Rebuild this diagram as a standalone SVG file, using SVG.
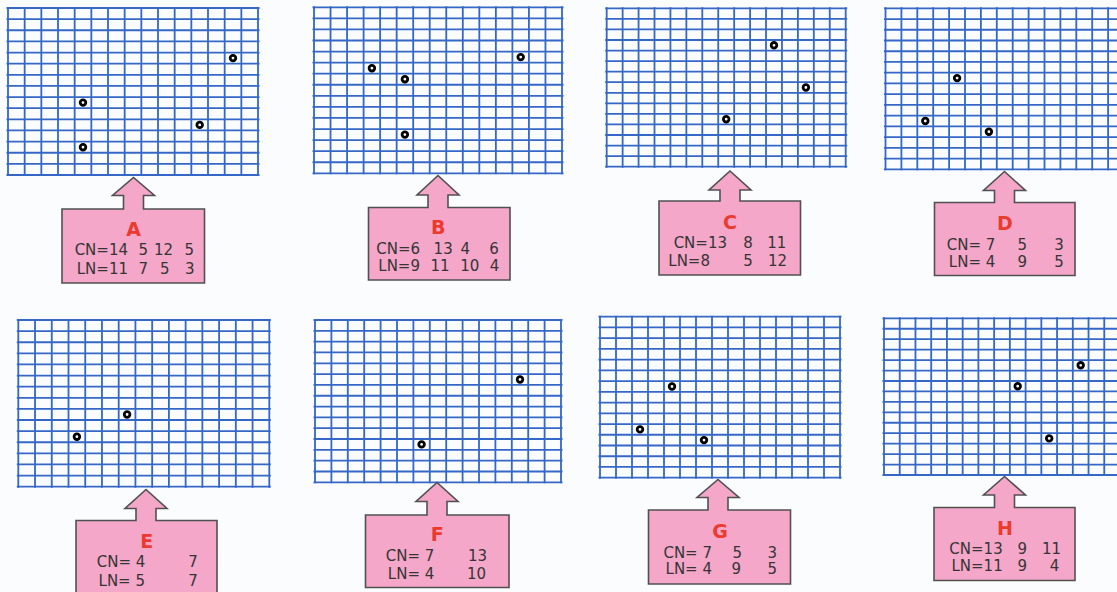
<svg xmlns="http://www.w3.org/2000/svg" width="1117" height="592" viewBox="0 0 1117 592">
<style>
.g{stroke:#3467c6;fill:none}
.box{fill:#f4a7c9;stroke:#505050;stroke-width:1.6;stroke-linejoin:miter}
.lbl{font-family:"DejaVu Sans",Verdana,sans-serif;font-weight:bold;font-size:19px;fill:#ec3a2e;text-anchor:middle}
.t{font-family:"DejaVu Sans",Verdana,sans-serif;font-size:15px;fill:#353535;text-anchor:end}
.dot{fill:#fff;stroke:#000;stroke-width:2.8}
</style>
<rect width="1117" height="592" fill="#fbfcfd"/>

<g id="panelA">
<line class="g" x1="7.1" y1="91.5" x2="258.9" y2="91.5" stroke-width="169" stroke-dasharray="1.8 14.867"/>
<line class="g" x1="133" y1="7.1" x2="133" y2="175.9" stroke-width="253" stroke-dasharray="1.8 9.333"/>
<circle class="dot" cx="233" cy="58.1" r="2.8"/>
<circle class="dot" cx="83" cy="102.6" r="2.8"/>
<circle class="dot" cx="199.7" cy="124.9" r="2.8"/>
<circle class="dot" cx="83" cy="147.2" r="2.8"/>
<path class="box" d="M62,283 V209 H123.5 V195.5 H112.5 L133.5,177.5 L154.5,195.5 H143.5 V209 H204.5 V283 Z"/>
<text class="lbl" x="133.5" y="235.5">A</text>
<text class="t" y="255"><tspan x="128">CN=14</tspan><tspan x="148">5</tspan><tspan x="173">12</tspan><tspan x="194">5</tspan></text>
<text class="t" y="273.5"><tspan x="128">LN=11</tspan><tspan x="148">7</tspan><tspan x="169.5">5</tspan><tspan x="194.5">3</tspan></text>
</g>

<g id="panelB">
<line class="g" x1="313.1" y1="90.3" x2="562.9" y2="90.3" stroke-width="168" stroke-dasharray="1.8 14.733"/>
<line class="g" x1="438" y1="6.4" x2="438" y2="174.2" stroke-width="251" stroke-dasharray="1.8 9.267"/>
<circle class="dot" cx="404.9" cy="79.2" r="2.8"/>
<circle class="dot" cx="520.7" cy="57.1" r="2.8"/>
<circle class="dot" cx="371.9" cy="68.2" r="2.8"/>
<circle class="dot" cx="404.9" cy="134.6" r="2.8"/>
<path class="box" d="M368.5,280 V207.5 H428 V195 H417 L438,175.5 L459,195 H448 V207.5 H510 V280 Z"/>
<text class="lbl" x="438.3" y="233.5">B</text>
<text class="t" y="253.5"><tspan x="420">CN=6</tspan><tspan x="452.7">13</tspan><tspan x="470">4</tspan><tspan x="498.7">6</tspan></text>
<text class="t" y="271"><tspan x="420">LN=9</tspan><tspan x="449.5">11</tspan><tspan x="479.3">10</tspan><tspan x="499.3">4</tspan></text>
</g>

<g id="panelC">
<line class="g" x1="605.8" y1="87.5" x2="846.6" y2="87.5" stroke-width="160.4" stroke-dasharray="1.8 14.133"/>
<line class="g" x1="726.2" y1="7.4" x2="726.2" y2="167.6" stroke-width="242" stroke-dasharray="1.8 8.76"/>
<circle class="dot" cx="805.9" cy="87.5" r="2.8"/>
<circle class="dot" cx="726.2" cy="119.2" r="2.8"/>
<circle class="dot" cx="774" cy="45.3" r="2.8"/>
<path class="box" d="M659,275 V201 H720 V190 H709 L730,171 L751,190 H740 V201 H800.5 V275 Z"/>
<text class="lbl" x="730" y="228.5">C</text>
<text class="t" y="248"><tspan x="727">CN=13</tspan><tspan x="752.7">8</tspan><tspan x="786.3">11</tspan></text>
<text class="t" y="265.5"><tspan x="710">LN=8</tspan><tspan x="752.7">5</tspan><tspan x="787">12</tspan></text>
</g>

<g id="panelD">
<line class="g" x1="884.6" y1="88.8" x2="1124.9" y2="88.8" stroke-width="163" stroke-dasharray="1.8 14.1"/>
<line class="g" x1="1004.75" y1="7.4" x2="1004.75" y2="170.2" stroke-width="241.5" stroke-dasharray="1.8 8.933"/>
<circle class="dot" cx="988.9" cy="131.7" r="2.8"/>
<circle class="dot" cx="957.1" cy="78.1" r="2.8"/>
<circle class="dot" cx="925.3" cy="121" r="2.8"/>
<path class="box" d="M934.5,275.5 V202.5 H994.5 V190.5 H983.5 L1004.5,171.5 L1025.5,190.5 H1014.5 V202.5 H1075 V275.5 Z"/>
<text class="lbl" x="1005" y="230">D</text>
<text class="t" y="250"><tspan x="995.3">CN= 7</tspan><tspan x="1027">5</tspan><tspan x="1063.7">3</tspan></text>
<text class="t" y="267"><tspan x="995.3">LN= 4</tspan><tspan x="1027">9</tspan><tspan x="1063.7">5</tspan></text>
</g>

<g id="panelE">
<line class="g" x1="17.4" y1="403.35" x2="270.2" y2="403.35" stroke-width="168.7" stroke-dasharray="1.8 14.933"/>
<line class="g" x1="143.8" y1="319.1" x2="143.8" y2="487.6" stroke-width="254" stroke-dasharray="1.8 9.313"/>
<circle class="dot" cx="76.9" cy="436.7" r="2.8"/>
<circle class="dot" cx="127.1" cy="414.5" r="2.8"/>
<path class="box" d="M76,600 V520.5 H136 V508.5 H125 L146,489.5 L167,508.5 H156 V520.5 H217 V600 Z"/>
<text class="lbl" x="146.7" y="547.5">E</text>
<text class="t" y="567"><tspan x="145.3">CN= 4</tspan><tspan x="197.7">7</tspan></text>
<text class="t" y="585.5"><tspan x="145">LN= 5</tspan><tspan x="197.7">7</tspan></text>
</g>

<g id="panelF">
<line class="g" x1="314.1" y1="401.15" x2="561.9" y2="401.15" stroke-width="164.3" stroke-dasharray="1.8 14.6"/>
<line class="g" x1="438" y1="319.1" x2="438" y2="483.2" stroke-width="249" stroke-dasharray="1.8 9.02"/>
<circle class="dot" cx="421.6" cy="444.4" r="2.8"/>
<circle class="dot" cx="520" cy="379.5" r="2.8"/>
<path class="box" d="M365.5,587.5 V515 H427 V501.5 H416 L437,482.5 L458,501.5 H447 V515 H509 V587.5 Z"/>
<text class="lbl" x="437.3" y="541">F</text>
<text class="t" y="561"><tspan x="434.3">CN= 7</tspan><tspan x="487">13</tspan></text>
<text class="t" y="578.5"><tspan x="434.3">LN= 4</tspan><tspan x="486">10</tspan></text>
</g>

<g id="panelG">
<line class="g" x1="599.1" y1="397.2" x2="840.9" y2="397.2" stroke-width="163" stroke-dasharray="1.8 14.2"/>
<line class="g" x1="720" y1="315.8" x2="720" y2="478.6" stroke-width="243" stroke-dasharray="1.8 8.933"/>
<circle class="dot" cx="704" cy="440.1" r="2.8"/>
<circle class="dot" cx="672" cy="386.5" r="2.8"/>
<circle class="dot" cx="640" cy="429.4" r="2.8"/>
<path class="box" d="M648.5,584 V510 H708 V497.5 H697 L718,479.5 L739,497.5 H728 V510 H790.5 V584 Z"/>
<text class="lbl" x="720" y="538">G</text>
<text class="t" y="557.5"><tspan x="712">CN= 7</tspan><tspan x="742">5</tspan><tspan x="777">3</tspan></text>
<text class="t" y="574"><tspan x="712">LN= 4</tspan><tspan x="741">9</tspan><tspan x="777">5</tspan></text>
</g>

<g id="panelH">
<line class="g" x1="883.1" y1="396.65" x2="1120.9" y2="396.65" stroke-width="158.7" stroke-dasharray="1.8 13.933"/>
<line class="g" x1="1002" y1="317.4" x2="1002" y2="475.9" stroke-width="239" stroke-dasharray="1.8 8.647"/>
<circle class="dot" cx="1080.7" cy="365.3" r="2.8"/>
<circle class="dot" cx="1017.7" cy="386.2" r="2.8"/>
<circle class="dot" cx="1049.2" cy="438.4" r="2.8"/>
<path class="box" d="M934,580.5 V507.5 H994.5 V495 H983.5 L1004.5,476.5 L1025.5,495 H1014.5 V507.5 H1075 V580.5 Z"/>
<text class="lbl" x="1005" y="534.5">H</text>
<text class="t" y="554"><tspan x="1002.7">CN=13</tspan><tspan x="1027">9</tspan><tspan x="1061">11</tspan></text>
<text class="t" y="570.5"><tspan x="1002.7">LN=11</tspan><tspan x="1027">9</tspan><tspan x="1059.3">4</tspan></text>
</g>
</svg>
